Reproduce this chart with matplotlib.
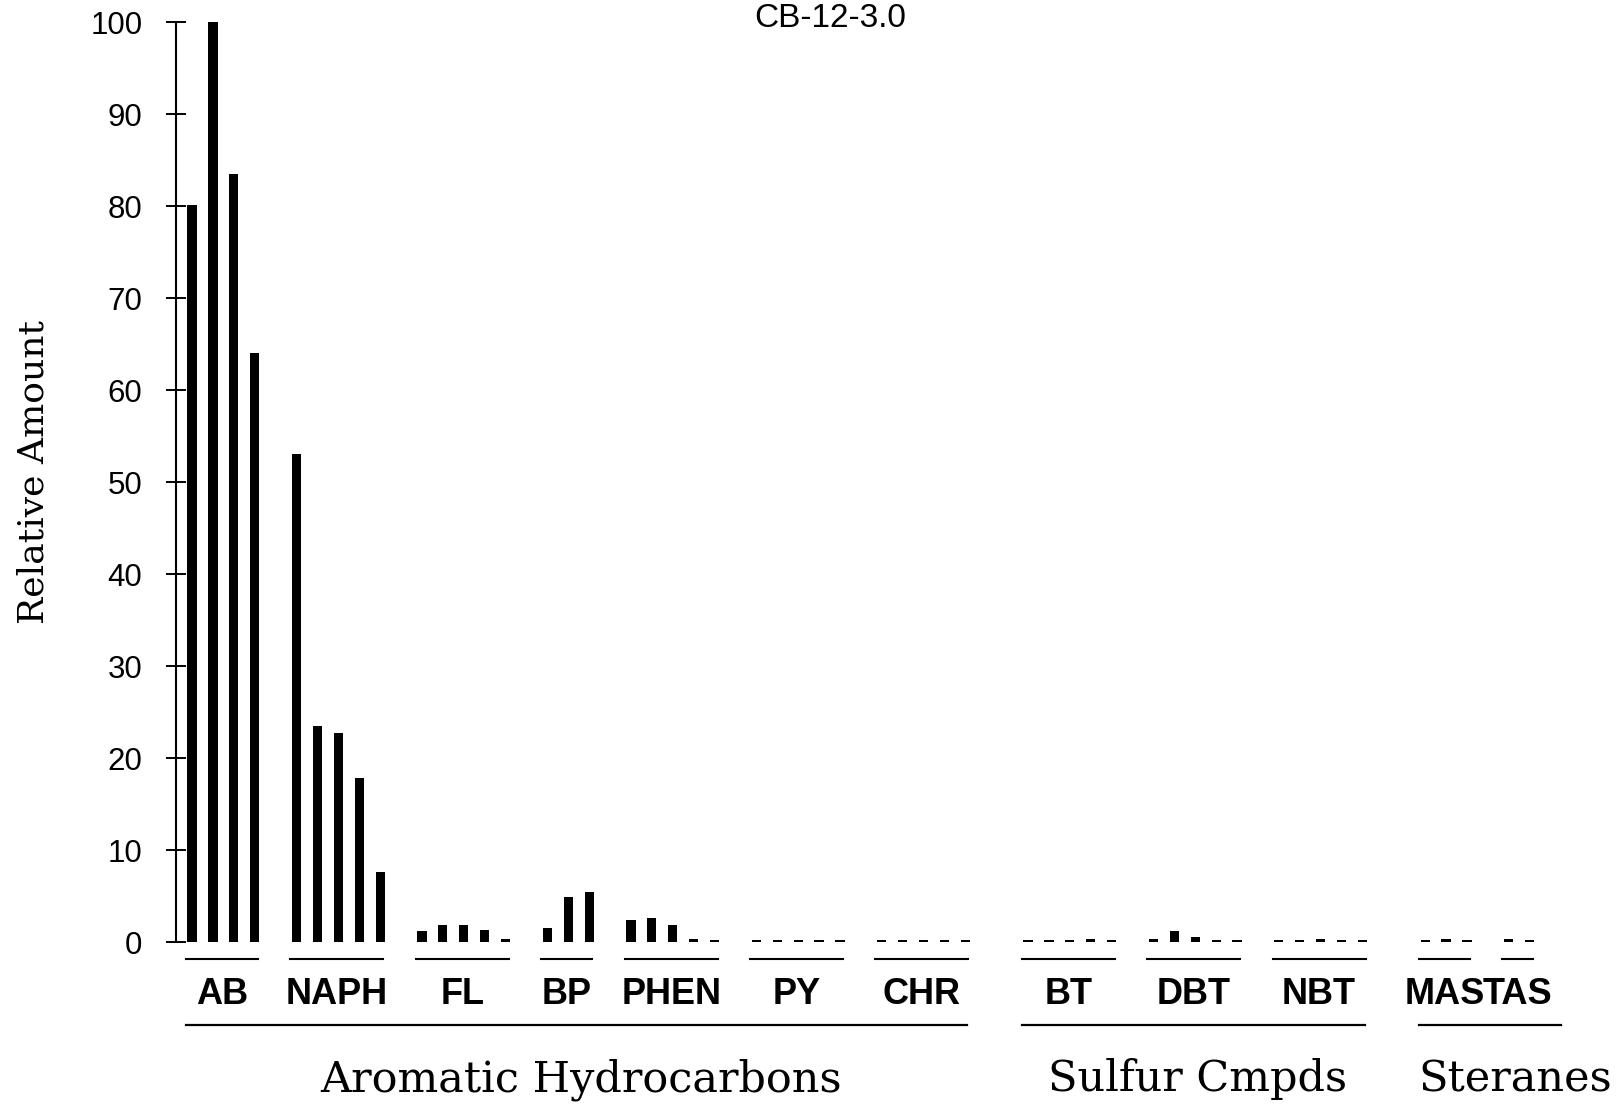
import numpy as np
import matplotlib
matplotlib.use('Agg')
import matplotlib.pyplot as plt

"""data read off the scanned chart"""
compounds = ['AB', 'NAPH', 'FL', 'BP', 'PHEN', 'PY', 'CHR', 'BT', 'DBT', 'NBT', 'MAS', 'TAS']
section_of = [0, 0, 0, 0, 0, 0, 0, 1, 1, 1, 2, 2]
section_names = ['Aromatic Hydrocarbons', 'Sulfur Cmpds', 'Steranes']

ab = [80.1, 100, 83.5, 64.0]
naph = [53.0, 23.5, 22.7, 17.8, 7.6]
fl = [1.2, 1.8, 1.8, 1.3, 0.3]
bp = [1.5, 4.9, 5.4]
phen = [2.4, 2.6, 1.8, 0.3, 0.2]
py = [0.25, 0.25, 0.25, 0.25, 0.25]
chr_ = [0.25, 0.25, 0.25, 0.25, 0.25]
bt = [0.2, 0.25, 0.25, 0.3, 0.25]
dbt = [0.35, 1.2, 0.6, 0.2, 0.2]
nbt = [0.25, 0.25, 0.3, 0.25, 0.25]
mas = [0.2, 0.3, 0.2]
tas = [0.3, 0.2]
amounts = [ab, naph, fl, bp, phen, py, chr_, bt, dbt, nbt, mas, tas]

yticks = [0, 10, 20, 30, 40, 50, 60, 70, 80, 90, 100]
title = 'CB-12-3.0'

plt.rcParams['font.family'] = 'Liberation Sans'

fig = plt.figure(figsize=(16.22, 11.08), dpi=100)
ax = fig.add_axes([176 / 1622, 0.1498, 1 - 176 / 1622, 0.8303])

"""work out bar slots: one empty slot after each compound, one more between sections"""
xs = []
pos = 0
prev = section_of[0]
for i, vals in enumerate(amounts):
    if section_of[i] != prev:
        pos += 1
        prev = section_of[i]
    xs.append(np.arange(len(vals)) + pos)
    pos += len(vals) + 1

for x, vals in zip(xs, amounts):
    ax.bar(x, vals, width=0.44, color='black')

ax.set_xlim(-0.77, 68.42)
ax.set_ylim(0, 100)
ax.set_yticks(yticks)
ax.set_xticks([])
for s in ['top', 'right', 'bottom']:
    ax.spines[s].set_visible(False)
ax.spines['left'].set_linewidth(1.5)
ax.tick_params(axis='y', direction='inout', length=14.4, width=1.4, pad=17, labelsize=22.5)

"""compound underlines and labels"""
for name, x in zip(compounds, xs):
    x0, x1 = x[0] - 0.3, x[-1] + 0.15
    ax.plot([x0, x1], [-1.8, -1.8], color='black', lw=1.5, clip_on=False)
    ax.text((x0 + x1) / 2, -6.7, name, ha='center', va='baseline', fontsize=26,
            fontweight='bold', family=['Liberation Sans Narrow', 'Liberation Sans'])

"""section underlines and labels"""
sec_label_x = [18.6, 48.1, 63.3]
sec_extra = [0, 0, 1.4]
for k, sname in enumerate(section_names):
    idx = [i for i, s in enumerate(section_of) if s == k]
    x0 = xs[idx[0]][0] - 0.3
    x1 = xs[idx[-1]][-1] + 0.1 + sec_extra[k]
    ax.plot([x0, x1], [-9.0, -9.0], color='black', lw=1.6, clip_on=False)
    ax.text(sec_label_x[k], -16.2, sname, ha='center', va='baseline', fontsize=31,
            family='DejaVu Serif')

fig.text(34 / 1622, 1 - 472 / 1108, 'Relative Amount', rotation=90, ha='center', va='center',
         fontsize=26, family='DejaVu Serif')
"""title sits right at the top edge like the scan, but kept inside the image"""
fig.text(830 / 1622, 1 - 3 / 1108, title, ha='center', va='top', fontsize=24)

fig.savefig('out.png', dpi=100)
